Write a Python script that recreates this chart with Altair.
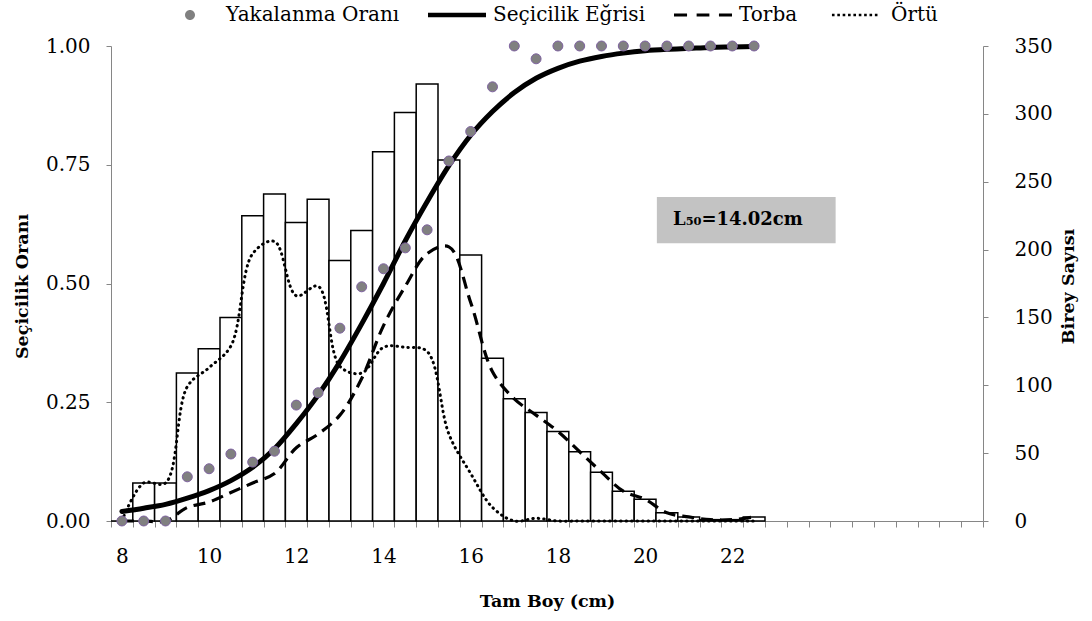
import altair as alt
import pandas as pd

# Length classes (cm), 0.5 cm steps
lengths = [8.0, 8.5, 9.0, 9.5, 10.0, 10.5, 11.0, 11.5, 12.0, 12.5,
           13.0, 13.5, 14.0, 14.5, 15.0, 15.5, 16.0, 16.5, 17.0, 17.5,
           18.0, 18.5, 19.0, 19.5, 20.0, 20.5, 21.0, 21.5, 22.0, 22.5]
# Total number of fish per length class (right axis)
birey = [0, 28, 28, 109, 127, 150, 225, 241, 220, 237,
         192, 214, 272, 301, 322, 266, 196, 120, 90, 80,
         66, 51, 36, 22, 16, 6, 3, 1, 1, 3]
# Codend (torba) and cover (örtü) catches per class
torba = [0, 0, 0, 10, 14, 21, 28, 35, 54, 64,
         78, 105, 144, 173, 197, 202, 161, 110, 90, 78,
         66, 51, 36, 22, 16, 6, 3, 1, 1, 3]
ortu = [0, 28, 28, 99, 113, 129, 197, 206, 166, 173,
        114, 109, 128, 128, 125, 64, 35, 10, 0, 2,
        0, 0, 0, 0, 0, 0, 0, 0, 0, 0]
# Observed retention ratio and fitted selection curve (left axis)
yakalanma = [0.0, 0.0, 0.0, 0.093, 0.110, 0.141, 0.124, 0.147, 0.244, 0.270,
             0.406, 0.493, 0.531, 0.575, 0.613, 0.758, 0.820, 0.914, 1.0, 0.973,
             1.0, 1.0, 1.0, 1.0, 1.0, 1.0, 1.0, 1.0, 1.0, 1.0]
secicilik = [0.020, 0.027, 0.035, 0.048, 0.064, 0.085, 0.113, 0.152, 0.205, 0.265,
             0.335, 0.415, 0.500, 0.590, 0.672, 0.748, 0.812, 0.862, 0.902, 0.932,
             0.953, 0.968, 0.978, 0.985, 0.990, 0.993, 0.995, 0.997, 0.998, 0.999]

x_labels = [8, 10, 12, 14, 16, 18, 20, 22]
series_names = ["Yakalanma Oranı", "Seçicilik Eğrisi", "Torba", "Örtü"]
l50_text = "L₅₀=14.02cm"

FONT = "DejaVu Serif"
AXIS_GRAY = "#868686"
W, H = 872, 475
X_MIN, X_MAX = 7.75, 27.75

df = pd.DataFrame({
    "boy": lengths, "birey": birey, "torba": torba, "ortu": ortu,
    "oran": yakalanma, "egri": secicilik,
})
df["sol"] = df["boy"] - 0.25
df["sag"] = df["boy"] + 0.25
df["seri"] = series_names[0]

# L50 label box, in data units (cm, ratio)
box = pd.DataFrame([{"x0": 20.27, "x1": 24.37, "y0": 0.585, "y1": 0.682,
                     "tx": 20.64, "ty": 0.634, "t": l50_text}])

x_scale = alt.Scale(domain=[X_MIN, X_MAX], nice=False, zero=False)
ratio_scale = alt.Scale(domain=[0, 1], nice=False)
count_scale = alt.Scale(domain=[0, 350], nice=False)

# legend key shapes in the [-1, 1] symbol box
def rect(x0, x1, h):
    return f"M{x0},{-h}L{x1},{-h}L{x1},{h}L{x0},{h}Z"

r = 0.172
circle_path = f"M{-r},0A{r},{r},0,1,0,{r},0A{r},{r},0,1,0,{-r},0Z"
solid_path = rect(-1, 1, 0.075)
dash_path = " ".join([rect(-1, -0.55, 0.055), rect(-0.22, 0.22, 0.055), rect(0.55, 1, 0.055)])
dot_path = " ".join(rect(round(c - 0.045, 3), round(c + 0.045, 3), 0.045)
                    for c in [-0.75 + 0.185 * i for i in range(9)])

legend = alt.Legend(
    title=None, orient="none", legendX=50, legendY=-60, direction="horizontal",
    symbolSize=3364, symbolStrokeWidth=0, labelFont=FONT, labelFontSize=20,
    labelColor="black", labelOffset=7, columnPadding=28, padding=0, labelLimit=400,
)

# class-boundary tick marks along the bottom
x_tick_axis = alt.Axis(
    orient="bottom", values=[X_MIN + 0.5 * i for i in range(41)],
    labels=False, title=None, domain=True, ticks=True,
    domainColor=AXIS_GRAY, tickColor=AXIS_GRAY, tickSize=6, grid=False,
)
# numeric labels and title along the bottom
x_label_axis = alt.Axis(
    orient="bottom", values=x_labels, ticks=False, domain=False, tickSize=0,
    title="Tam Boy (cm)", titleFont=FONT, titleFontWeight="bold", titleFontSize=17.5,
    titleY=80, titleBaseline="middle", titleColor="black", grid=False,
    labelFont=FONT, labelFontSize=20, labelColor="black", labelPadding=25,
    labelFlush=False,
)

left_axis = alt.Axis(
    orient="left", values=[0, 0.25, 0.5, 0.75, 1.0], format=".2f",
    domain=True, ticks=True,
    title="Seçicilik Oranı", titleFont=FONT, titleFontWeight="bold", titleFontSize=17.5,
    titleX=-89, titleY=240, titleAngle=270, titleBaseline="middle", titleAlign="center",
    titleColor="black",
    domainColor=AXIS_GRAY, tickColor=AXIS_GRAY, tickSize=5, grid=False,
    labelFont=FONT, labelFontSize=20, labelColor="black", labelPadding=16,
)

right_axis = alt.Axis(
    orient="right", values=[0, 50, 100, 150, 200, 250, 300, 350],
    domain=True, ticks=True,
    title="Birey Sayısı", titleFont=FONT, titleFontWeight="bold", titleFontSize=17.5,
    titleX=85, titleY=240, titleAngle=270, titleBaseline="middle", titleAlign="center",
    titleColor="black",
    domainColor=AXIS_GRAY, tickColor=AXIS_GRAY, tickSize=5, grid=False,
    labelFont=FONT, labelFontSize=20, labelColor="black", labelPadding=26,
)

base = alt.Chart(df)

# frequency histogram (right axis)
bars = base.mark_rect(fill="white", stroke="black", strokeWidth=1.5).encode(
    x=alt.X("sol:Q", scale=x_scale, axis=x_tick_axis),
    x2="sag:Q",
    y=alt.Y("birey:Q", scale=count_scale, axis=right_axis),
    y2=alt.datum(0),
)

torba_line = base.mark_line(
    color="black", strokeWidth=3.2, strokeDash=[12, 7], interpolate="catmull-rom"
).encode(
    x=alt.X("boy:Q", scale=x_scale, axis=None),
    y=alt.Y("torba:Q", scale=count_scale, axis=None),
)

ortu_line = base.mark_line(
    color="black", strokeWidth=3, strokeDash=[0.5, 5], strokeCap="round",
    interpolate="catmull-rom",
).encode(
    x=alt.X("boy:Q", scale=x_scale, axis=None),
    y=alt.Y("ortu:Q", scale=count_scale, axis=None),
)

box_rect = alt.Chart(box).mark_rect(fill="#c3c3c3").encode(
    x=alt.X("x0:Q", scale=x_scale, axis=None), x2="x1:Q",
    y=alt.Y("y0:Q", scale=ratio_scale, axis=None), y2="y1:Q",
)
box_text = alt.Chart(box).mark_text(
    font=FONT, fontWeight="bold", fontSize=18, align="left", baseline="middle", color="black"
).encode(
    x=alt.X("tx:Q", scale=x_scale, axis=None),
    y=alt.Y("ty:Q", scale=ratio_scale, axis=None),
    text="t:N",
)

# selection curve (left axis)
curve = base.mark_line(
    color="black", strokeWidth=5, strokeCap="round", interpolate="monotone"
).encode(
    x=alt.X("boy:Q", scale=x_scale, axis=x_label_axis),
    y=alt.Y("egri:Q", scale=ratio_scale, axis=left_axis),
)

points = base.mark_point(
    filled=True, size=3364, stroke="#8064A2", strokeWidth=1, opacity=1
).encode(
    x=alt.X("boy:Q", scale=x_scale, axis=None),
    y=alt.Y("oran:Q", scale=ratio_scale, axis=None),
    shape=alt.Shape("seri:N", scale=alt.Scale(
        domain=series_names, range=[circle_path, solid_path, dash_path, dot_path]),
        legend=legend),
    color=alt.Color("seri:N", scale=alt.Scale(
        domain=series_names, range=["#808080", "black", "black", "black"]),
        legend=legend),
)

chart = alt.layer(
    bars, torba_line, ortu_line, box_rect, box_text, curve, points
).resolve_scale(y="independent").resolve_axis(x="independent").properties(
    width=W, height=H,
    padding={"left": 111, "top": 46, "right": 109, "bottom": 100},
    autosize=alt.AutoSizeParams(type="none"),
    background="white",
).configure_view(stroke=None)

chart.save("out.html", embed_options={"renderer": "svg", "actions": False})
